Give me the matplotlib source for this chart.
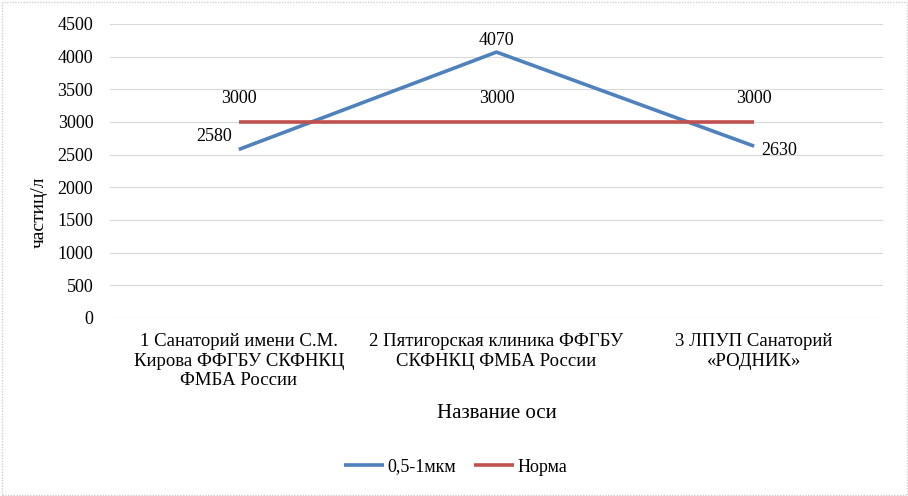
import numpy as np
import matplotlib.pyplot as plt
from matplotlib.patches import Rectangle

plt.rcParams['font.family'] = ['Liberation Serif', 'DejaVu Serif']

# data
categories = ["1 Санаторий имени С.М.\nКирова ФФГБУ СКФНКЦ\nФМБА России",
              "2 Пятигорская клиника ФФГБУ\nСКФНКЦ ФМБА России",
              "3 ЛПУП Санаторий\n«РОДНИК»"]
particles = [2580, 4070, 2630]
norma = [3000, 3000, 3000]
series_names = ["0,5-1мкм", "Норма"]
yticks = list(range(0, 4501, 500))

BLUE = '#4f81bd'
RED = '#c0504d'
FS = 13

fig = plt.figure(figsize=(9.08, 4.96), dpi=100)
ax = fig.add_axes([110/908, 1 - 318/496, 773/908, 294/496])

x = np.arange(len(categories))
l1, = ax.plot(x, particles, color=BLUE, lw=2.6, solid_capstyle='butt', label=series_names[0])
l2, = ax.plot(x, norma, color=RED, lw=2.6, solid_capstyle='butt', label=series_names[1])

# data labels
offsets = [(-18, 9), (0, 8), (18, -3)]
for xi, v, off in zip(x, particles, offsets):
    ax.annotate(str(v), (xi, v), textcoords='offset points', xytext=off,
                ha='center', va='center', fontsize=FS)
for xi, v in zip(x, norma):
    ax.annotate(str(v), (xi, v), textcoords='offset points', xytext=(0, 17),
                ha='center', va='center', fontsize=FS)

ax.set_xlim(-0.5, len(categories) - 0.5)
ax.set_ylim(0, 4500)
ax.set_yticks(yticks)
ax.set_xticks(x)
ax.set_xticklabels(categories, fontsize=13.5, linespacing=1.18)
ax.tick_params(axis='y', labelsize=FS, length=0, pad=12)
ax.tick_params(axis='x', length=0, pad=11)
ax.grid(axis='y', color='#d9d9d9', lw=0.8)
ax.set_axisbelow(True)
for s in ax.spines.values():
    s.set_visible(False)

ax.set_ylabel("частиц/л", fontsize=14)
ax.yaxis.set_label_coords(-0.08, 0.36)
fig.text(497/908, 1 - 414/496, "Название оси", ha='center', va='center', fontsize=15)

fig.legend(handles=[l1, l2], loc='center', bbox_to_anchor=(456/908, 1 - 467/496),
           ncol=2, frameon=False, fontsize=FS, handlelength=2.2,
           handletextpad=0.2, columnspacing=1.0)

fig.add_artist(Rectangle((1.5/908, 1.5/496), 1 - 3/908, 1 - 3/496, transform=fig.transFigure,
                         fill=False, edgecolor='#d0d0d0', lw=1, ls=(0, (1, 1))))

fig.savefig("out.png", dpi=100)
